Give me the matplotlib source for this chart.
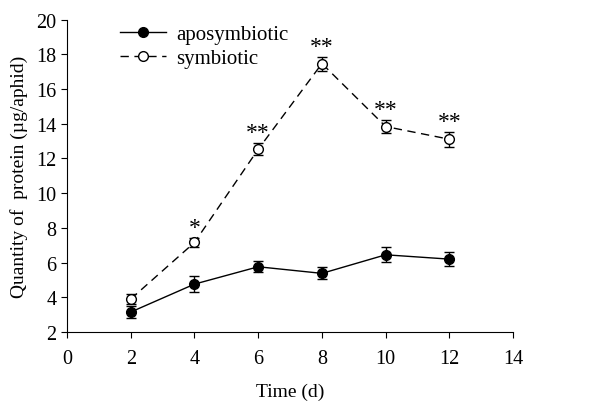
import matplotlib.pyplot as plt
from matplotlib.lines import Line2D

plt.rcParams['font.family'] = ['Liberation Serif', 'DejaVu Serif']

days = [2, 4, 6, 8, 10, 12]
apo = [3.15, 4.76, 5.76, 5.38, 6.45, 6.2]
apo_err = [0.35, 0.44, 0.32, 0.34, 0.44, 0.42]
sym = [3.9, 7.16, 12.53, 17.47, 13.84, 13.11]
sym_err = [0.3, 0.25, 0.34, 0.4, 0.4, 0.44]
stars = ['', '*', '**', '**', '**', '**']

fig = plt.figure(figsize=(5.96, 4.02), dpi=100)
ax = fig.add_axes([0.1124, 0.1716, 0.7486, 0.777])

dash = (0, (6, 4))
ax.errorbar(days, apo, yerr=apo_err, color='black', marker='o', markersize=7,
            markerfacecolor='black', linestyle='-', linewidth=1, capsize=3.5,
            elinewidth=1, zorder=3)
ax.errorbar(days, sym, yerr=sym_err, color='black', marker='o', markersize=7,
            markerfacecolor='white', linestyle=dash, linewidth=1, capsize=3.5,
            elinewidth=1, zorder=3)

for x, y, e, s in zip(days, sym, sym_err, stars):
    if s:
        ax.text(x, y + e, s, ha='center', va='bottom', fontsize=17)

ax.set_xlim(0, 14)
ax.set_ylim(2, 20)
ax.set_xticks(range(0, 15, 2))
ax.set_yticks(range(2, 21, 2))
ax.spines['top'].set_visible(False)
ax.spines['right'].set_visible(False)
ax.tick_params(direction='out', length=4, labelsize=14.5)
ax.tick_params(axis='x', pad=8)
ax.set_xlabel('Time (d)', fontsize=14, labelpad=11)
ax.set_ylabel('Quantity of  protein (\u00b5g/aphid)', fontsize=14, labelpad=6)

handles = [
    Line2D([], [], color='black', marker='o', markersize=7, markerfacecolor='black', linewidth=1),
    Line2D([], [], color='black', marker='o', markersize=7, markerfacecolor='white', linewidth=1, linestyle=dash),
]
ax.legend(handles, ['aposymbiotic', 'symbiotic'], loc='upper left',
          bbox_to_anchor=(0.1, 1.01), frameon=False, fontsize=15,
          handlelength=2.2, handletextpad=0.5, borderaxespad=0, labelspacing=0.2)

fig.savefig('out.png', dpi=100)
